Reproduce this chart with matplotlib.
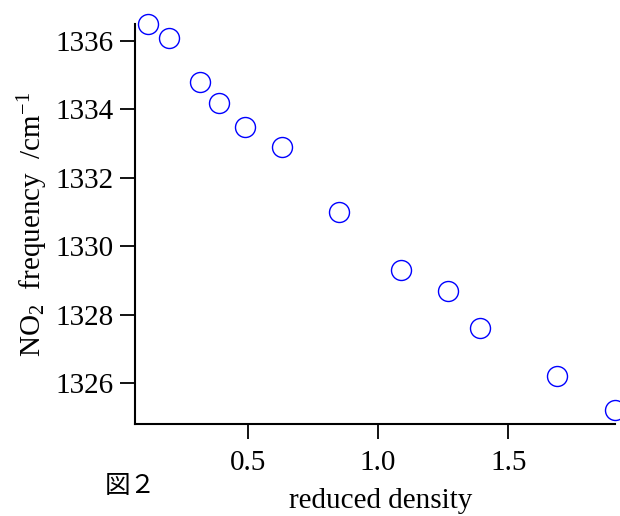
import matplotlib
matplotlib.use("Agg")
import matplotlib.pyplot as plt

reduced_density = [0.117, 0.198, 0.317, 0.390, 0.490, 0.632, 0.851, 1.089, 1.269, 1.392, 1.688, 1.910]
no2_frequency = [1336.50, 1336.09, 1334.80, 1334.19, 1333.49, 1332.90, 1331.00, 1329.30, 1328.69, 1327.61, 1326.20, 1325.21]
x_ticks = [0.5, 1.0, 1.5]
x_tick_labels = ["0.5", "1.0", "1.5"]
y_ticks = [1326, 1328, 1330, 1332, 1334, 1336]

plt.rcParams['font.family'] = ['Liberation Serif', 'DejaVu Serif']
plt.rcParams['mathtext.fontset'] = 'custom'
plt.rcParams['mathtext.rm'] = 'Liberation Serif'
plt.rcParams['mathtext.it'] = 'Liberation Serif:italic'
plt.rcParams['mathtext.default'] = 'rm'

fig = plt.figure(figsize=(6.2, 5.16), dpi=100)
ax = fig.add_axes([135/620, (516-424)/516, (615-135)/620, (424-24)/516])

ax.plot(reduced_density, no2_frequency, linestyle='none', marker='o', markersize=14.4,
        markerfacecolor='none', markeredgecolor='#0000ff', markeredgewidth=1.0, clip_on=False)

ax.set_xlim(0.067, 1.91)
ax.set_ylim(1324.8, 1336.5)
ax.set_xticks(x_ticks)
ax.set_xticklabels(x_tick_labels)
ax.set_yticks(y_ticks)

for s in ['top', 'right']:
    ax.spines[s].set_visible(False)
for s in ['left', 'bottom']:
    ax.spines[s].set_linewidth(1.5)
ax.tick_params(axis='both', direction='out', length=10.5, width=1.3, labelsize=21)
ax.tick_params(axis='y', pad=5)
ax.tick_params(axis='x', pad=8)

ax.set_xlabel("reduced density", fontsize=21)
ax.xaxis.set_label_coords((381 - 135) / 480, -(508 - 424) / 400)
ax.xaxis.label.set_va('baseline')
ax.set_ylabel(r"NO$_2$  frequency  /cm$^{-1}$", fontsize=21)
ax.yaxis.set_label_coords(-(135 - 50) / 480, 0.5)

fig.text(105/620, 1 - 486/516, "図２", fontsize=18.5, va='center', ha='left',
         family=['Noto Sans CJK JP', 'DejaVu Sans'])

fig.savefig("out.png", dpi=100)
